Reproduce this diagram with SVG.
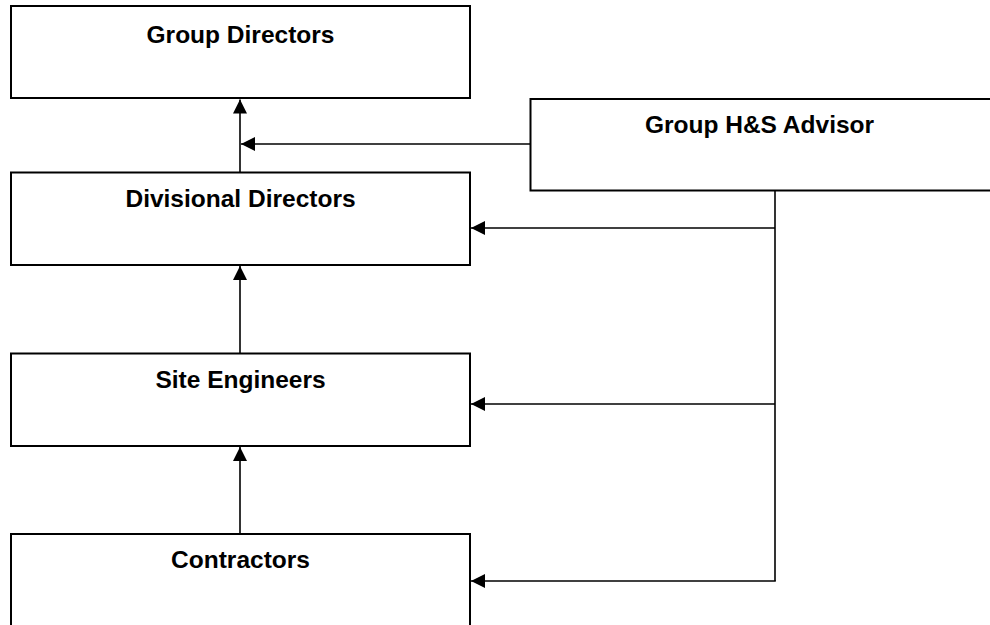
<svg xmlns="http://www.w3.org/2000/svg" width="990" height="625" viewBox="0 0 990 625">
<defs>
<style>
.box{fill:#fff;stroke:#000;stroke-width:2}
.lbl{font-family:"Liberation Sans",Arial,sans-serif;font-weight:bold;font-size:24.5px;fill:#000;text-anchor:middle}
.con{fill:none;stroke:#000;stroke-width:1.6}
</style>
<marker id="arr" markerUnits="userSpaceOnUse" markerWidth="15" markerHeight="15" refX="14" refY="7" orient="auto" viewBox="0 0 15 15">
<path d="M0,0 L14,7 L0,14 Z" fill="#000"/>
</marker>
</defs>
<rect width="990" height="625" fill="#fff"/>
<g id="group-directors">
<rect class="box" x="11" y="6" width="459" height="92"/>
<text class="lbl" x="240.5" y="42.5">Group Directors</text>
</g>
<g id="group-hs-advisor">
<rect class="box" x="530.5" y="99" width="475" height="91.5"/>
<text class="lbl" x="759.5" y="133">Group H&amp;S Advisor</text>
</g>
<g id="divisional-directors">
<rect class="box" x="11" y="172.5" width="459" height="92.5"/>
<text class="lbl" x="240.5" y="206.5">Divisional Directors</text>
</g>
<g id="site-engineers">
<rect class="box" x="11" y="353.5" width="459" height="92.5"/>
<text class="lbl" x="240.5" y="387.5">Site Engineers</text>
</g>
<g id="contractors">
<rect class="box" x="11" y="534" width="459" height="120"/>
<text class="lbl" x="240.5" y="568">Contractors</text>
</g>
<g id="connectors">
<line class="con" x1="240" y1="172" x2="240" y2="99.5" marker-end="url(#arr)"/>
<line class="con" x1="530" y1="144" x2="241" y2="144" marker-end="url(#arr)"/>
<path class="con" d="M775,190.5 V581"/>
<line class="con" x1="775" y1="228" x2="471" y2="228" marker-end="url(#arr)"/>
<line class="con" x1="775" y1="404" x2="471" y2="404" marker-end="url(#arr)"/>
<line class="con" x1="775.8" y1="581" x2="471" y2="581" marker-end="url(#arr)"/>
<line class="con" x1="240" y1="353" x2="240" y2="266" marker-end="url(#arr)"/>
<line class="con" x1="240" y1="534" x2="240" y2="447" marker-end="url(#arr)"/>
</g>
</svg>
